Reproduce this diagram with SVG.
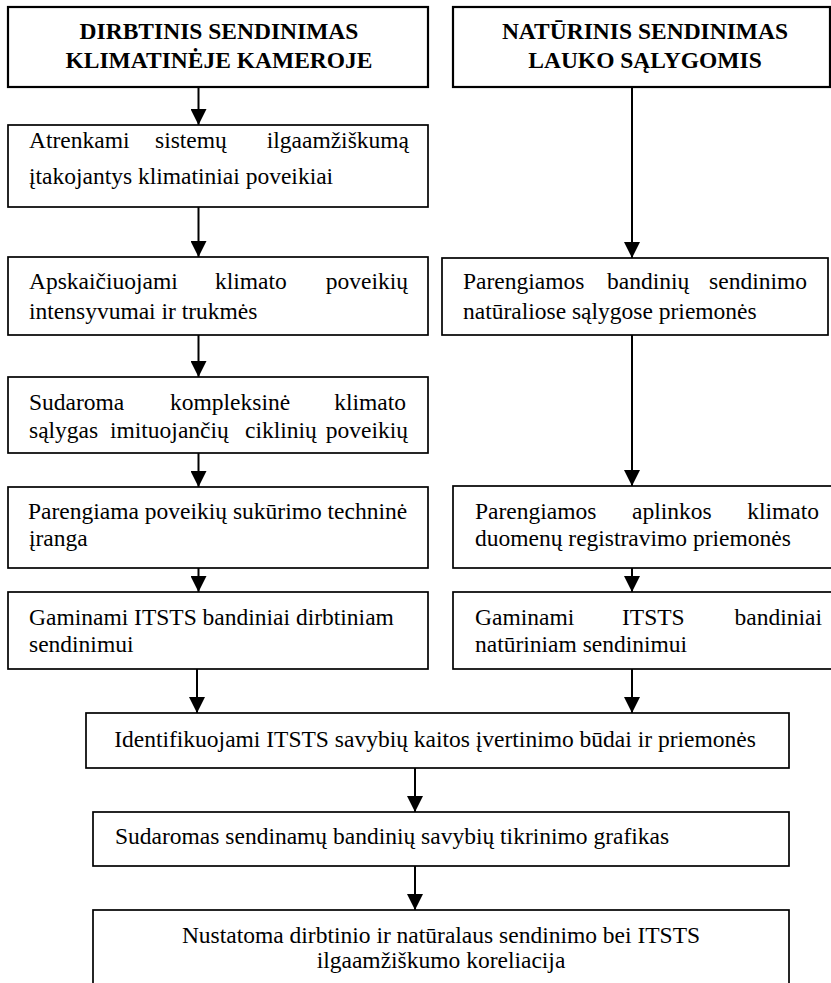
<svg xmlns="http://www.w3.org/2000/svg" width="831" height="983" viewBox="0 0 831 983">
  <style>
    .box { fill: #ffffff; stroke: #000000; stroke-width: 1.7; }
    .head { fill: #ffffff; stroke: #000000; stroke-width: 2.2; }
    text { font-family: "Liberation Serif", "Times New Roman", serif; font-size: 23.5px; fill: #000000; }
    .b { font-weight: bold; text-anchor: middle; }
    .c { text-anchor: middle; }
    .e { text-anchor: end; }
    .link { stroke: #000000; stroke-width: 2; fill: none; marker-end: url(#arrow); }
  </style>
  <defs>
    <marker id="arrow" viewBox="0 0 16 16" refX="16" refY="8" markerWidth="16" markerHeight="16" markerUnits="userSpaceOnUse" orient="auto">
      <path d="M0,0 L16,8 L0,16 Z" fill="#000000"/>
    </marker>
  </defs>

  <g id="connectors">
    <!-- left column -->
    <line class="link" x1="198.5" y1="87" x2="198.5" y2="125"/>
    <line class="link" x1="198.5" y1="207" x2="198.5" y2="257"/>
    <line class="link" x1="198.5" y1="335" x2="198.5" y2="377"/>
    <line class="link" x1="198.5" y1="453" x2="198.5" y2="487"/>
    <line class="link" x1="198.5" y1="568" x2="198.5" y2="592"/>
    <line class="link" x1="197" y1="669" x2="197" y2="713"/>
    <!-- right column -->
    <line class="link" x1="632" y1="87" x2="632" y2="258"/>
    <line class="link" x1="632" y1="335" x2="632" y2="486"/>
    <line class="link" x1="632" y1="568" x2="632" y2="592"/>
    <line class="link" x1="632" y1="669" x2="632" y2="713"/>
    <!-- centre -->
    <line class="link" x1="415" y1="768" x2="415" y2="812"/>
    <line class="link" x1="415" y1="866" x2="415" y2="910"/>
  </g>

  <g id="dirbtinis">
    <rect class="head" x="8" y="7" width="420" height="80"/>
    <text class="b" x="219" y="39">DIRBTINIS SENDINIMAS</text>
    <text class="b" x="219" y="68">KLIMATINĖJE KAMEROJE</text>
  </g>

  <g id="naturinis">
    <rect class="head" x="453" y="7" width="377" height="80"/>
    <text class="b" x="645" y="39">NATŪRINIS SENDINIMAS</text>
    <text class="b" x="645" y="68">LAUKO SĄLYGOMIS</text>
  </g>

  <g id="atrenkami">
    <rect class="box" x="8" y="125" width="420" height="82"/>
    <text x="29" y="148">Atrenkami</text>
    <text x="155" y="148">sistemų</text>
    <text class="e" x="409" y="148">ilgaamžiškumą</text>
    <text x="29" y="184">įtakojantys klimatiniai poveikiai</text>
  </g>

  <g id="apskaiciuojami">
    <rect class="box" x="8" y="257" width="420" height="78"/>
    <text x="29" y="289">Apskaičiuojami</text>
    <text x="215" y="289">klimato</text>
    <text class="e" x="408" y="289">poveikių</text>
    <text x="29" y="319">intensyvumai ir trukmės</text>
  </g>

  <g id="sudaroma">
    <rect class="box" x="8" y="377" width="420" height="76"/>
    <text x="29" y="410">Sudaroma</text>
    <text x="170" y="410">kompleksinė</text>
    <text class="e" x="406" y="410">klimato</text>
    <text x="29" y="438">sąlygas</text>
    <text x="110" y="438">imituojančių</text>
    <text x="245" y="438">ciklinių</text>
    <text class="e" x="408" y="438">poveikių</text>
  </g>

  <g id="parengiama">
    <rect class="box" x="8" y="487" width="420" height="81"/>
    <text x="28" y="519">Parengiama poveikių sukūrimo techninė</text>
    <text x="29" y="546">įranga</text>
  </g>

  <g id="gaminami-dirbtiniam">
    <rect class="box" x="8" y="592" width="420" height="77"/>
    <text x="29" y="625">Gaminami ITSTS bandiniai dirbtiniam</text>
    <text x="29" y="652">sendinimui</text>
  </g>

  <g id="parengiamos-sendinimo">
    <rect class="box" x="442" y="258" width="386" height="77"/>
    <text x="463" y="289">Parengiamos</text>
    <text x="607" y="289">bandinių</text>
    <text class="e" x="807" y="289">sendinimo</text>
    <text x="463" y="319">natūraliose sąlygose priemonės</text>
  </g>

  <g id="parengiamos-registravimo">
    <rect class="box" x="453" y="486" width="382" height="82"/>
    <text x="475" y="519">Parengiamos</text>
    <text x="632" y="519">aplinkos</text>
    <text class="e" x="819" y="519">klimato</text>
    <text x="475" y="546">duomenų registravimo priemonės</text>
  </g>

  <g id="gaminami-naturiniam">
    <rect class="box" x="453" y="592" width="382" height="77"/>
    <text x="475" y="625">Gaminami</text>
    <text x="622" y="625">ITSTS</text>
    <text class="e" x="822" y="625">bandiniai</text>
    <text x="475" y="652">natūriniam sendinimui</text>
  </g>

  <g id="identifikuojami">
    <rect class="box" x="86" y="713" width="703" height="55"/>
    <text class="c" x="435" y="747">Identifikuojami ITSTS savybių kaitos įvertinimo būdai ir priemonės</text>
  </g>

  <g id="grafikas">
    <rect class="box" x="93" y="812" width="696" height="54"/>
    <text x="115" y="844">Sudaromas sendinamų bandinių savybių tikrinimo grafikas</text>
  </g>

  <g id="koreliacija">
    <rect class="box" x="93" y="910" width="696" height="85"/>
    <text class="c" x="441" y="943">Nustatoma dirbtinio ir natūralaus sendinimo bei ITSTS</text>
    <text class="c" x="441" y="968">ilgaamžiškumo koreliacija</text>
  </g>
</svg>
